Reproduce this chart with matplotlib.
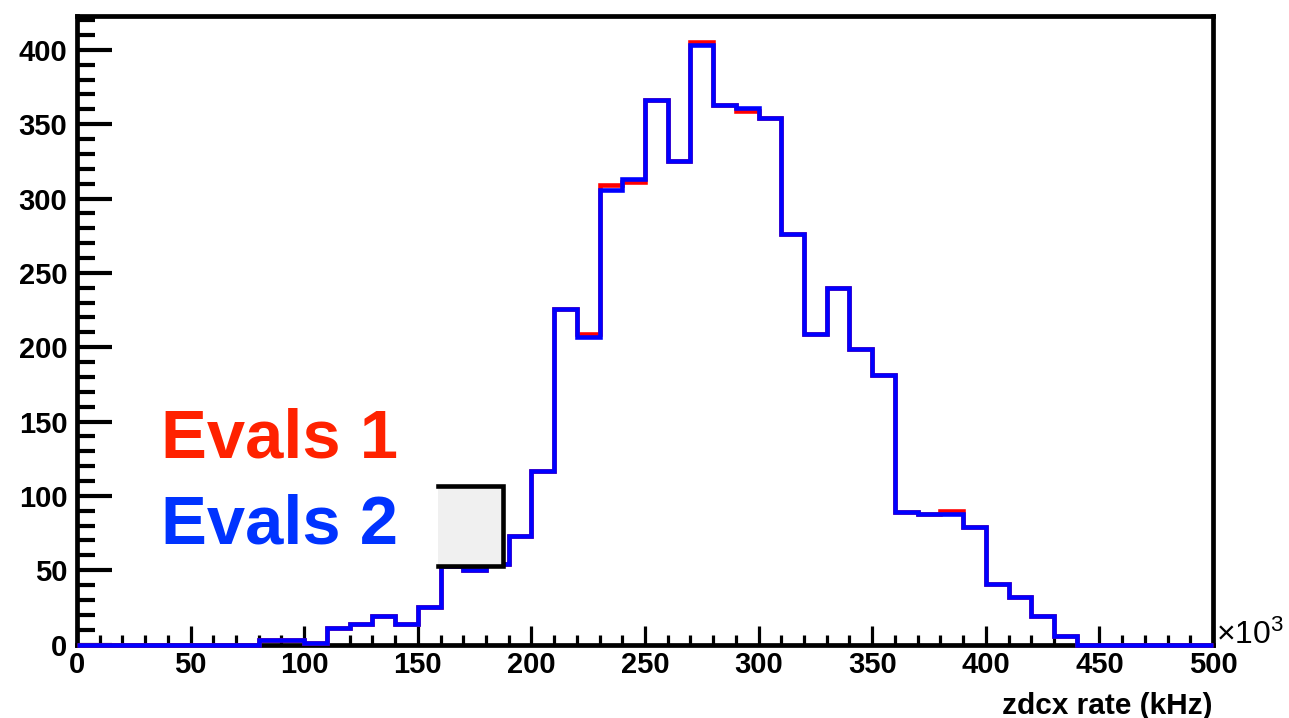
import numpy as np
import matplotlib
matplotlib.use("Agg")
import matplotlib.pyplot as plt
from matplotlib.patches import Rectangle
from matplotlib.ticker import MultipleLocator

# ---- data ----
bin_edges = np.arange(0, 510, 10)  # zdcx rate, in units of 10^3 kHz
evals2 = [0, 0, 0, 0, 0, 0, 0, 0,
          3, 3, 1, 11, 14, 19, 14, 25, 53, 50, 54, 73,
          117, 226, 207, 306, 313, 366, 325, 403, 363, 361,
          354, 276, 209, 240, 199, 181, 89, 88, 88, 79,
          41, 32, 19, 6, 0, 0, 0, 0, 0, 0]
evals1 = [0, 0, 0, 0, 0, 0, 0, 0,
          3, 3, 1, 11, 14, 19, 14, 25, 53, 50, 54, 73,
          117, 226, 209, 309, 311, 366, 325, 405, 363, 359,
          354, 276, 209, 240, 199, 181, 89, 88, 90, 79,
          41, 32, 19, 6, 0, 0, 0, 0, 0, 0]
labels = ["Evals 1", "Evals 2"]
x_label = "zdcx rate (kHz)"

plt.rcParams['font.family'] = ['Liberation Sans', 'DejaVu Sans']
plt.rcParams['mathtext.fontset'] = 'custom'
plt.rcParams['mathtext.rm'] = 'Liberation Sans'

W, H = 1289, 718
fig = plt.figure(figsize=(W / 100, H / 100), dpi=100)
ax = fig.add_axes([77 / W, 1 - 644.5 / H, (1213 - 77) / W, (644.5 - 15.7) / H])

ax.stairs(evals1, bin_edges, color='#ff0000', lw=3.3, zorder=3, clip_on=False)
ax.stairs(evals2, bin_edges, color='#0000ff', lw=3.3, zorder=4, clip_on=False)

ax.set_xlim(0, 500)
ax.set_ylim(0, 423)

for s in ax.spines.values():
    s.set_linewidth(3.4)
    s.set_zorder(2)

ax.xaxis.set_major_locator(MultipleLocator(50))
ax.xaxis.set_minor_locator(MultipleLocator(10))
ax.yaxis.set_major_locator(MultipleLocator(50))
ax.yaxis.set_minor_locator(MultipleLocator(10))

ax.tick_params(axis='y', which='major', direction='in', length=25, width=3, pad=7,
               labelsize=21)
ax.tick_params(axis='y', which='minor', direction='in', length=13, width=3)
ax.tick_params(axis='x', which='major', direction='in', length=13.5, width=2.3, pad=5,
               labelsize=21)
ax.tick_params(axis='x', which='minor', direction='in', length=7, width=2.3)
for lab in ax.get_xticklabels() + ax.get_yticklabels():
    lab.set_fontweight('bold')

# gray box (pave)
x0, x1, y0, y1 = 159, 187.5, 53, 106.5
ax.add_patch(Rectangle((x0, y0), x1 - x0, y1 - y0, facecolor='#f0f0f0',
                       edgecolor='none', zorder=5))
ax.plot([x0, x1, x1, x0], [y1, y1, y0, y0], color='black', lw=3.3,
        solid_joinstyle='miter', zorder=6)

# labels
fig.text(161 / W, 1 - 458 / H, labels[0], color='#ff2200', fontsize=49.5,
         fontweight='bold', ha='left', va='baseline')
fig.text(161 / W, 1 - 543 / H, labels[1], color='#0033ff', fontsize=49.5,
         fontweight='bold', ha='left', va='baseline')

fig.text(1213 / W, 1 - 706 / H, x_label, fontsize=21.5, fontweight='bold',
         ha='right', va='center')
fig.text(1216 / W, 1 - 644 / H, r'$\times\mathrm{10^{3}}$', fontsize=23,
         ha='left', va='baseline')

fig.savefig('out.png', dpi=100, facecolor='white')
